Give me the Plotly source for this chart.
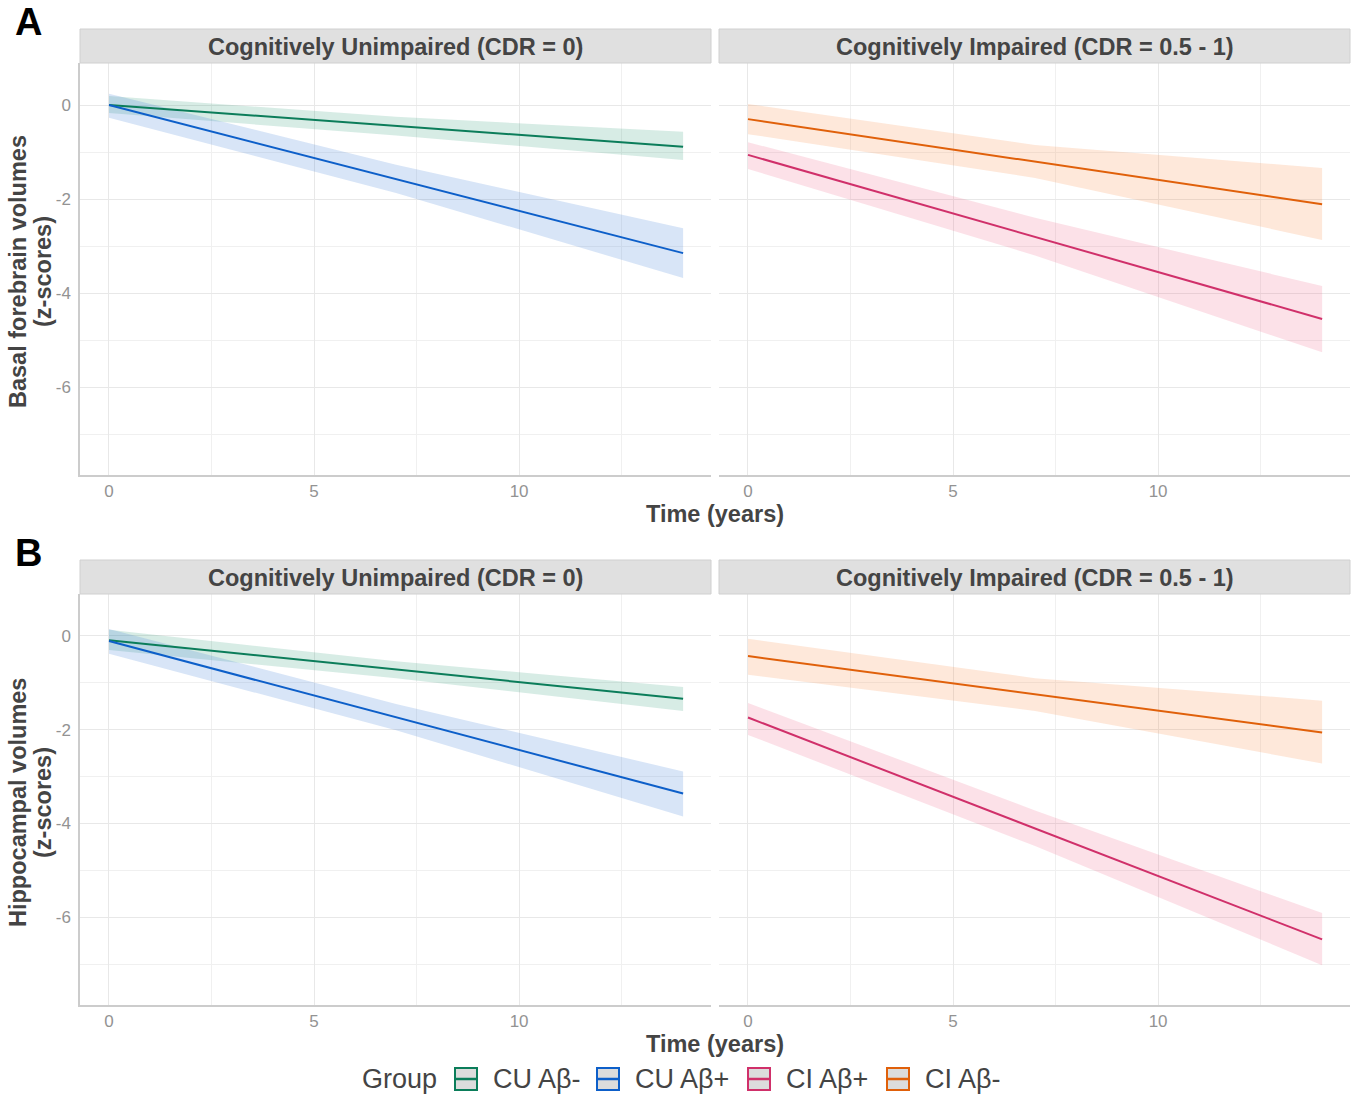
import plotly.graph_objects as go

# ---------------- data ----------------
time_years = [0, 7, 14]
groups = ["CU Aβ-", "CU Aβ+", "CI Aβ+", "CI Aβ-"]
facets = ["Cognitively Unimpaired (CDR = 0)", "Cognitively Impaired (CDR = 0.5 - 1)"]
x_ticks = [0, 5, 10]
y_ticks = [0, -2, -4, -6]
y_tick_labels = ["0", "-2", "-4", "-6"]

# Panel A: basal forebrain
A_cu_neg_fit = [0.00, -0.45, -0.89]
A_cu_neg_lo = [-0.17, -0.65, -1.17]
A_cu_neg_hi = [0.19, -0.25, -0.57]
A_cu_pos_fit = [0.00, -1.57, -3.15]
A_cu_pos_lo = [-0.27, -1.87, -3.68]
A_cu_pos_hi = [0.24, -1.27, -2.62]
A_ci_neg_fit = [-0.30, -1.20, -2.11]
A_ci_neg_lo = [-0.62, -1.55, -2.87]
A_ci_neg_hi = [0.02, -0.85, -1.34]
A_ci_pos_fit = [-1.06, -2.80, -4.55]
A_ci_pos_lo = [-1.36, -3.20, -5.26]
A_ci_pos_hi = [-0.79, -2.40, -3.85]

# Panel B: hippocampus
B_cu_neg_fit = [-0.09, -0.72, -1.34]
B_cu_neg_lo = [-0.30, -0.90, -1.60]
B_cu_neg_hi = [0.13, -0.54, -1.09]
B_cu_pos_fit = [-0.11, -1.73, -3.36]
B_cu_pos_lo = [-0.38, -2.01, -3.85]
B_cu_pos_hi = [0.15, -1.45, -2.89]
B_ci_neg_fit = [-0.43, -1.25, -2.06]
B_ci_neg_lo = [-0.83, -1.60, -2.72]
B_ci_neg_hi = [-0.06, -0.90, -1.38]
B_ci_pos_fit = [-1.74, -4.10, -6.47]
B_ci_pos_lo = [-2.11, -4.48, -7.02]
B_ci_pos_hi = [-1.43, -3.72, -5.91]

line_colors = {"CU Aβ-": "#0b7d5a", "CU Aβ+": "#0d5fc9", "CI Aβ+": "#d0306a", "CI Aβ-": "#e0600a"}
fill_colors = {"CU Aβ-": "rgba(20,140,100,0.17)", "CU Aβ+": "rgba(60,125,215,0.20)",
               "CI Aβ+": "rgba(240,90,125,0.18)", "CI Aβ-": "rgba(250,140,70,0.20)"}

panels = [
    ("x", "y", "CU Aβ-", A_cu_neg_fit, A_cu_neg_lo, A_cu_neg_hi),
    ("x", "y", "CU Aβ+", A_cu_pos_fit, A_cu_pos_lo, A_cu_pos_hi),
    ("x2", "y2", "CI Aβ+", A_ci_pos_fit, A_ci_pos_lo, A_ci_pos_hi),
    ("x2", "y2", "CI Aβ-", A_ci_neg_fit, A_ci_neg_lo, A_ci_neg_hi),
    ("x3", "y3", "CU Aβ-", B_cu_neg_fit, B_cu_neg_lo, B_cu_neg_hi),
    ("x3", "y3", "CU Aβ+", B_cu_pos_fit, B_cu_pos_lo, B_cu_pos_hi),
    ("x4", "y4", "CI Aβ+", B_ci_pos_fit, B_ci_pos_lo, B_ci_pos_hi),
    ("x4", "y4", "CI Aβ-", B_ci_neg_fit, B_ci_neg_lo, B_ci_neg_hi),
]

fig = go.Figure()
for xa, ya, g, fit, lo, hi in panels:
    fig.add_trace(go.Scatter(x=time_years + time_years[::-1], y=hi + lo[::-1],
                             fill="toself", fillcolor=fill_colors[g], line=dict(width=0),
                             mode="lines", hoverinfo="skip", showlegend=False,
                             xaxis=xa, yaxis=ya))
for xa, ya, g, fit, lo, hi in panels:
    fig.add_trace(go.Scatter(x=time_years, y=fit, mode="lines",
                             line=dict(color=line_colors[g], width=2),
                             showlegend=False, name=g, xaxis=xa, yaxis=ya))

W, H = 1358, 1095
def px_x(p): return p / W
def px_y(p): return 1 - p / H

xl = [px_x(80), px_x(711)]
xr = [px_x(719), px_x(1350)]
yA = [px_y(475), px_y(63)]
yB = [px_y(1005), px_y(594)]

FONT = "Liberation Sans, Arial"
tickfont = dict(size=17, color="#939393", family=FONT)
grid = "#e8e8e8"
def xaxis(domain, anchor):
    return dict(domain=domain, anchor=anchor, range=[-0.707, 14.68], tickvals=x_ticks,
                showgrid=True, gridcolor=grid, gridwidth=1.4,
                minor=dict(dtick=2.5, tick0=0, showgrid=True, gridcolor="#f0f0f0", gridwidth=1),
                zeroline=False, showline=True, linecolor="#cccccc", linewidth=1.5,
                tickfont=tickfont, ticks="", ticklabelstandoff=0)
def yaxis(domain, anchor, showlabels, showline):
    return dict(domain=domain, anchor=anchor, range=[-7.87, 0.894], tickvals=y_ticks,
                ticktext=y_tick_labels, showticklabels=showlabels,
                showgrid=True, gridcolor=grid, gridwidth=1.4,
                minor=dict(dtick=1, tick0=0, showgrid=True, gridcolor="#f0f0f0", gridwidth=1),
                zeroline=False, showline=showline, linecolor="#cccccc", linewidth=1.5,
                tickfont=tickfont, ticks="", ticklabelstandoff=4)

fig.update_layout(
    width=W, height=H, margin=dict(l=0, r=0, t=0, b=0),
    plot_bgcolor="white", paper_bgcolor="white",
    font=dict(family=FONT, color="#444444"),
    xaxis=xaxis(xl, "y"), yaxis=yaxis(yA, "x", True, True),
    xaxis2=xaxis(xr, "y2"), yaxis2=yaxis(yA, "x2", False, False),
    xaxis3=xaxis(xl, "y3"), yaxis3=yaxis(yB, "x3", True, True),
    xaxis4=xaxis(xr, "y4"), yaxis4=yaxis(yB, "x4", False, False),
    showlegend=False,
)

shapes = []
annotations = []
for (top, bot) in [(29, 63), (560, 594)]:
    for (x0, x1), label in zip([(80, 711), (719, 1350)], facets):
        shapes.append(dict(type="rect", xref="paper", yref="paper",
                           x0=px_x(x0), x1=px_x(x1), y0=px_y(bot), y1=px_y(top),
                           fillcolor="#e0e0e0", line=dict(color="#d0d0d0", width=1)))
        annotations.append(dict(text="<b>" + label + "</b>", xref="paper", yref="paper",
                                x=px_x((x0 + x1) / 2), y=px_y((top + bot) / 2 + 1),
                                showarrow=False, font=dict(size=23.5, color="#444444"),
                                xanchor="center", yanchor="middle"))

annotations += [
    dict(text="<b>A</b>", xref="paper", yref="paper", x=px_x(28), y=px_y(22),
         showarrow=False, font=dict(size=38, color="black"), xanchor="center", yanchor="middle"),
    dict(text="<b>B</b>", xref="paper", yref="paper", x=px_x(28), y=px_y(553),
         showarrow=False, font=dict(size=38, color="black"), xanchor="center", yanchor="middle"),
    dict(text="<b>Time (years)</b>", xref="paper", yref="paper", x=px_x(715), y=px_y(514),
         showarrow=False, font=dict(size=23.5, color="#444444"), xanchor="center", yanchor="middle"),
    dict(text="<b>Time (years)</b>", xref="paper", yref="paper", x=px_x(715), y=px_y(1044),
         showarrow=False, font=dict(size=23.5, color="#444444"), xanchor="center", yanchor="middle"),
]
for line1, line2, yc in [("Basal forebrain volumes", "(z-scores)", 272),
                         ("Hippocampal volumes", "(z-scores)", 803)]:
    for txt, xc in [(line1, 18), (line2, 43)]:
        annotations.append(dict(text="<b>" + txt + "</b>", xref="paper", yref="paper",
                                x=px_x(xc), y=px_y(yc), textangle=-90, showarrow=False,
                                font=dict(size=23.5, color="#444444"),
                                xanchor="center", yanchor="middle"))

# manual legend (ggplot-style keys)
legend_y = 1079
annotations.append(dict(text="Group", xref="paper", yref="paper", x=px_x(439), y=px_y(legend_y),
                        showarrow=False, font=dict(size=27, color="#444444"),
                        xanchor="right", yanchor="middle"))
key_x = [454, 596, 747, 886]
for g, kx in zip(groups, key_x):
    c = line_colors[g]
    shapes.append(dict(type="rect", xref="paper", yref="paper",
                       x0=px_x(kx + 1), x1=px_x(kx + 23), y0=px_y(legend_y + 11), y1=px_y(legend_y - 11),
                       fillcolor="#dcdcdc", line=dict(color=c, width=2)))
    shapes.append(dict(type="line", xref="paper", yref="paper",
                       x0=px_x(kx + 1), x1=px_x(kx + 23), y0=px_y(legend_y), y1=px_y(legend_y),
                       line=dict(color=c, width=2.5)))
    annotations.append(dict(text=g, xref="paper", yref="paper", x=px_x(kx + 37), y=px_y(legend_y),
                            showarrow=False, font=dict(size=27, color="#444444"),
                            xanchor="left", yanchor="middle"))

fig.update_layout(shapes=shapes, annotations=annotations)
fig.write_html("out.html")
